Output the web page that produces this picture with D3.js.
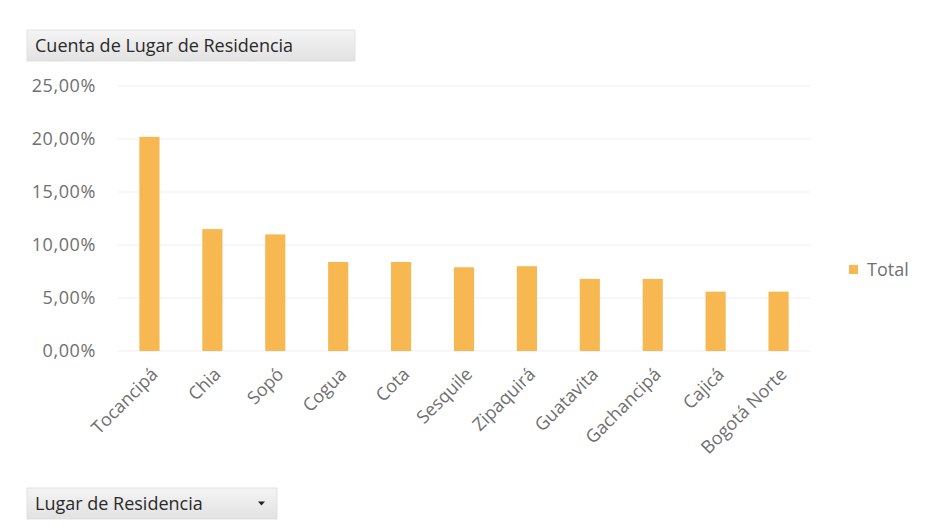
<!DOCTYPE html>
<html>
<head>
<meta charset="utf-8">
<script src="https://cdn.jsdelivr.net/npm/d3@7"></script>
<style>
  html, body { margin: 0; padding: 0; background: #fff; }
  svg { display: block; font-family: "Open Sans", "Noto Sans", sans-serif; }
</style>
</head>
<body>
<svg id="chart" width="935" height="527"></svg>
<script>
// Share of respondents by place of residence
const categories = ["Tocancipá", "Chia", "Sopó", "Cogua", "Cota", "Sesquile",
                    "Zipaquirá", "Guatavita", "Gachancipá", "Cajicá", "Bogotá Norte"];
const totals = [20.2, 11.5, 11.0, 8.4, 8.4, 7.9, 8.0, 6.8, 6.8, 5.6, 5.6];
const yTicks = [0, 5, 10, 15, 20, 25];
const seriesName = "Total";
const fieldTitle = "Cuenta de Lugar de Residencia";
const axisField = "Lugar de Residencia";

const svg = d3.select("#chart");
const margin = { top: 86, left: 118, right: 125, bottom: 176 };
const W = 935, H = 527;
const plotW = W - margin.left - margin.right;
const plotH = H - margin.top - margin.bottom;

const x = d3.scaleBand().domain(categories).range([margin.left, margin.left + plotW])
  .paddingInner(0.68).paddingOuter(0.34);
const y = d3.scaleLinear().domain([0, 25]).range([margin.top + plotH, margin.top]);

const fmt = v => d3.format(".2f")(v).replace(".", ",") + "%";
const labelFont = "18px";
const labelColor = "#707070";

// gradient for the field buttons
const defs = svg.append("defs");
const g = defs.append("linearGradient").attr("id", "btn").attr("x1", 0).attr("x2", 0).attr("y1", 0).attr("y2", 1);
g.append("stop").attr("offset", "0%").attr("stop-color", "#f4f4f4");
g.append("stop").attr("offset", "100%").attr("stop-color", "#e2e2e2");

// gridlines
svg.append("g")
  .selectAll("line").data(yTicks).join("line")
  .attr("x1", margin.left).attr("x2", margin.left + plotW)
  .attr("y1", d => y(d)).attr("y2", d => y(d))
  .attr("stroke", "#efefef").attr("stroke-width", 1);

// y axis
const yAxis = svg.append("g").attr("transform", `translate(${margin.left - 22},0)`)
  .call(d3.axisLeft(y).tickValues(yTicks).tickFormat(fmt).tickSize(0).tickPadding(0));
yAxis.select(".domain").remove();
yAxis.selectAll("text").attr("fill", labelColor).style("font-size", labelFont)
  .style("letter-spacing", "0.6px")
  .style("font-family", "'Open Sans', sans-serif");

// bars
svg.append("g").selectAll("rect").data(categories).join("rect")
  .attr("x", d => x(d))
  .attr("width", x.bandwidth())
  .attr("y", (d, i) => y(totals[i]))
  .attr("height", (d, i) => y(0) - y(totals[i]))
  .attr("fill", "#F7B852");

// x axis labels, rotated
const xAxis = svg.append("g").attr("transform", `translate(0,${y(0)})`)
  .call(d3.axisBottom(x).tickSize(0).tickPadding(0));
xAxis.select(".domain").remove();
xAxis.selectAll("text")
  .attr("fill", labelColor).style("font-size", labelFont)
  .style("font-family", "'Open Sans', sans-serif")
  .attr("text-anchor", "end")
  .attr("y", 0).attr("dy", "0.35em")
  .attr("transform", "translate(5,20) rotate(-45)");

// legend
const lg = svg.append("g").attr("transform", "translate(849,270)");
lg.append("rect").attr("x", 0).attr("y", -5).attr("width", 9).attr("height", 9).attr("fill", "#F7B852");
lg.append("text").attr("x", 18).attr("y", 0).attr("dy", "0.35em")
  .attr("fill", labelColor).style("font-size", labelFont).text(seriesName);

// field buttons
function button(xp, yp, w, h, label, arrow) {
  const b = svg.append("g").attr("transform", `translate(${xp},${yp})`);
  b.append("rect").attr("width", w).attr("height", h).attr("fill", "url(#btn)")
    .attr("stroke", "#dcdcdc").attr("stroke-width", 0.8);
  b.append("text").attr("x", 8).attr("y", h / 2).attr("dy", "0.35em")
    .attr("fill", "#2a2a2a").style("font-size", "18px").text(label);
  if (arrow) {
    b.append("path").attr("d", `M${w - 19},${h / 2 - 2} l7,0 l-3.5,4 z`).attr("fill", "#222");
  }
}
button(27, 30, 328, 31, fieldTitle, false);
button(27, 488, 250, 31, axisField, true);
</script>
</body>
</html>
